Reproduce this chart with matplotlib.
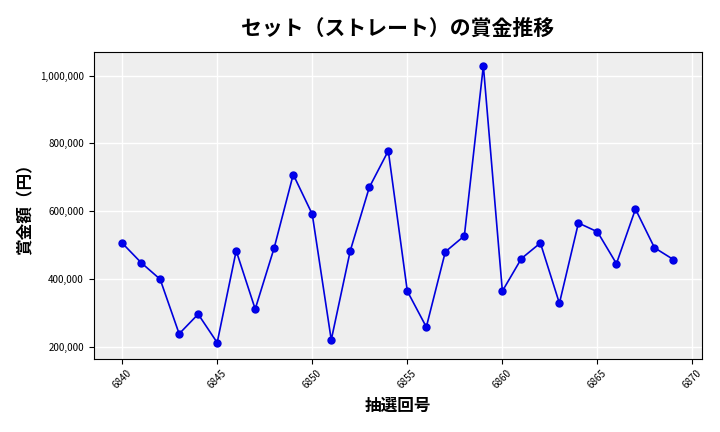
import matplotlib
matplotlib.use("Agg")
import matplotlib.pyplot as plt
from matplotlib.ticker import FuncFormatter

plt.rcParams['font.family'] = ['Noto Sans CJK JP', 'DejaVu Sans']

draws = list(range(6840, 6870))
prizes = [506000, 448000, 399000, 238000, 296000, 212000, 483000, 311000, 492000, 708000,
          591000, 220000, 483000, 670000, 778000, 364000, 258000, 480000, 527000, 1029000,
          364000, 460000, 506000, 328000, 565000, 539000, 445000, 606000, 492000, 457000]

fig, ax = plt.subplots(figsize=(7.2, 4.32), dpi=100)
ax.set_facecolor('#EEEEEE')
ax.grid(True, color='white', linewidth=1)
ax.set_axisbelow(True)
ax.plot(draws, prizes, color='#0000DD', marker='o', markersize=5, linewidth=1.2,
        markerfacecolor='#0000EE')
ax.set_xticks(range(6840, 6871, 5))
ax.set_yticks([200000, 400000, 600000, 800000, 1000000])
ax.yaxis.set_major_formatter(FuncFormatter(lambda v, p: f"{int(v):,}"))
ax.tick_params(axis='x', labelrotation=45, labelsize=7)
ax.tick_params(axis='y', labelsize=7)
ax.set_xlim(6838.5, 6870.5)
ax.set_ylim(165000, 1070000)
ax.set_title('セット（ストレート）の賞金推移', fontsize=15, fontweight='bold', pad=12)
ax.set_xlabel('抽選回号', fontsize=12, fontweight='bold')
ax.set_ylabel('賞金額（円）', fontsize=12, fontweight='bold')
fig.subplots_adjust(left=0.13, right=0.975, top=0.88, bottom=0.17)
fig.savefig('out.png')
